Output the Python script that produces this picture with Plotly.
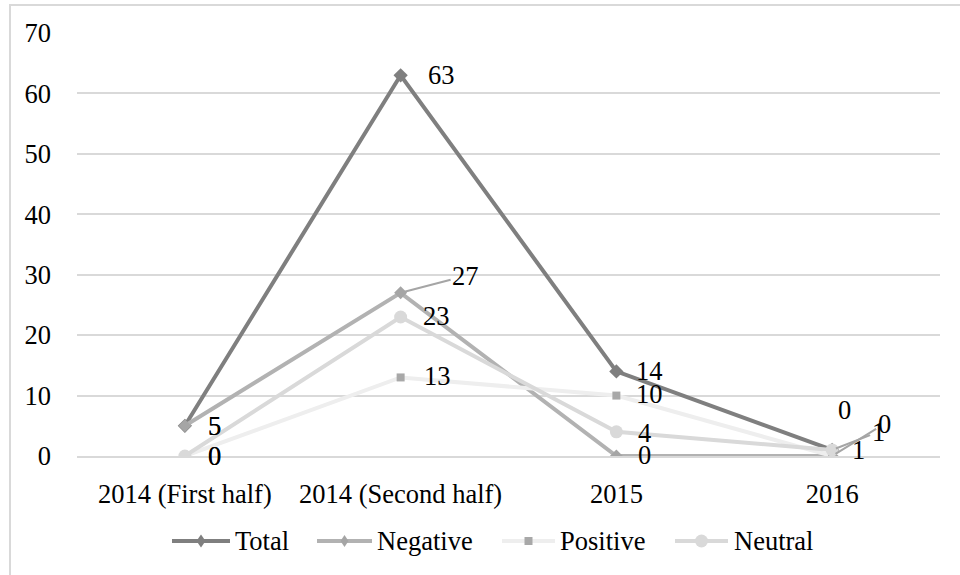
import plotly.graph_objects as go

# Periods and counts per sentiment group
periods = ["2014 (First half)", "2014 (Second half)", "2015", "2016"]
total = [5, 63, 14, 1]
negative = [5, 27, 0, 0]
positive = [0, 13, 10, 0]
neutral = [0, 23, 4, 1]

FONT = "Liberation Serif, Times New Roman, serif"
FS = 26.5
BLACK = "#000000"

# Plot-area geometry in pixels (used for the legend drawn below the axis)
W, H = 960, 575
ML, MR, MT, MB = 77, 20, 33, 119
PW, PH = W - ML - MR, H - MT - MB


def px_x(p):
    return (p - ML) / PW


def px_y(p):
    return (H - MB - p) / PH


series = [
    # name, values, line colour, marker colour, symbol, size
    ("Total", total, "#7f7f7f", "#7f7f7f", "diamond", 11),
    ("Negative", negative, "#b2b2b2", "#a5a5a5", "diamond", 10),
    ("Positive", positive, "#eeeeee", "#a8a8a8", "square", 8),
    ("Neutral", neutral, "#d9d9d9", "#d9d9d9", "circle", 13),
]

fig = go.Figure()
for name, vals, lc, mc, sym, ms in series:
    fig.add_trace(go.Scatter(
        x=periods, y=vals, name=name, mode="lines+markers",
        line=dict(color=lc, width=4),
        marker=dict(color=mc, symbol=sym, size=ms),
        showlegend=False,
    ))

# Data labels: (series values, period index, x offset, y offset, leader line)
label_spec = [
    (total, 0, 30, 0, False),
    (negative, 0, 30, 0, False),
    (positive, 0, 30, 0, False),
    (neutral, 0, 30, 0, False),
    (total, 1, 41, 0, False),
    (negative, 1, 65, -17, True),
    (neutral, 1, 36, -1, False),
    (positive, 1, 37, -1, False),
    (total, 2, 33, 0, False),
    (positive, 2, 33, -2, False),
    (neutral, 2, 28, 1, False),
    (negative, 2, 28, -1, False),
    (negative, 3, 12, -46, False),
    (positive, 3, 52, -32, True),
    (neutral, 3, 46, -18, True),
    (total, 3, 26, 0, False),
]
annotations = []
for vals, i, dx, dy, leader in label_spec:
    txt = str(vals[i])
    # category axis: annotations are placed by category index
    if leader:
        annotations.append(dict(
            x=i, y=vals[i], xref="x", yref="y", text=txt,
            showarrow=True, ax=dx, ay=dy, arrowhead=0, arrowwidth=2,
            arrowcolor="#a5a5a5", standoff=4,
            font=dict(family=FONT, size=FS, color=BLACK),
        ))
    else:
        annotations.append(dict(
            x=i, y=vals[i], xref="x", yref="y", text=txt,
            showarrow=False, xanchor="center", yanchor="middle",
            xshift=dx, yshift=-dy,
            font=dict(family=FONT, size=FS, color=BLACK),
        ))

shapes = [
    # outer chart frame
    dict(type="rect", xref="paper", yref="paper",
         x0=px_x(10), x1=px_x(990), y0=px_y(620), y1=px_y(5),
         line=dict(color="#d9d9d9", width=2), fillcolor="rgba(0,0,0,0)",
         layer="below"),
]

# Legend row: long line sample with a marker in the middle, then the name
LEG_Y = 541
legend_pos = [(172, 230, 233), (317, 372, 375), (502, 555, 558), (675, 728, 732)]
for (name, vals, lc, mc, sym, ms), (x0, x1, tx) in zip(series, legend_pos):
    shapes.append(dict(type="line", xref="paper", yref="paper",
                       x0=px_x(x0), x1=px_x(x1), y0=px_y(LEG_Y), y1=px_y(LEG_Y),
                       line=dict(color=lc, width=4)))
    cx = (x0 + x1) / 2
    r = ms / 2
    if sym == "diamond":
        path = "M {} {} L {} {} L {} {} L {} {} Z".format(
            px_x(cx), px_y(LEG_Y - r - 1), px_x(cx + r - 1), px_y(LEG_Y),
            px_x(cx), px_y(LEG_Y + r + 1), px_x(cx - r + 1), px_y(LEG_Y))
        shapes.append(dict(type="path", xref="paper", yref="paper", path=path,
                           fillcolor=mc, line=dict(width=0)))
    elif sym == "square":
        shapes.append(dict(type="rect", xref="paper", yref="paper",
                           x0=px_x(cx - r), x1=px_x(cx + r),
                           y0=px_y(LEG_Y + r), y1=px_y(LEG_Y - r),
                           fillcolor=mc, line=dict(width=0)))
    else:
        shapes.append(dict(type="circle", xref="paper", yref="paper",
                           x0=px_x(cx - r), x1=px_x(cx + r),
                           y0=px_y(LEG_Y + r), y1=px_y(LEG_Y - r),
                           fillcolor=mc, line=dict(width=0)))
    annotations.append(dict(
        x=px_x(tx), y=px_y(LEG_Y), xref="paper", yref="paper", text=name,
        showarrow=False, xanchor="left", yanchor="middle",
        font=dict(family=FONT, size=FS, color=BLACK),
    ))

fig.update_layout(
    width=W, height=H,
    margin=dict(l=ML, r=MR, t=MT, b=MB),
    paper_bgcolor="#ffffff", plot_bgcolor="#ffffff",
    font=dict(family=FONT, size=FS, color=BLACK),
    showlegend=False,
    annotations=annotations,
    shapes=shapes,
)
fig.update_xaxes(
    type="category", range=[-0.5, 3.5], showgrid=False,
    showline=True, linecolor="#d9d9d9", linewidth=2,
    ticks="", ticklabelstandoff=13,
    tickfont=dict(family=FONT, size=FS, color=BLACK),
)
fig.update_yaxes(
    range=[0, 70], dtick=10, showgrid=True, gridcolor="#d9d9d9", gridwidth=2,
    zeroline=True, zerolinecolor="#d9d9d9", zerolinewidth=2,
    showline=False, ticks="", ticklabelstandoff=25,
    tickfont=dict(family=FONT, size=FS, color=BLACK),
)

fig.write_html("out.html")
